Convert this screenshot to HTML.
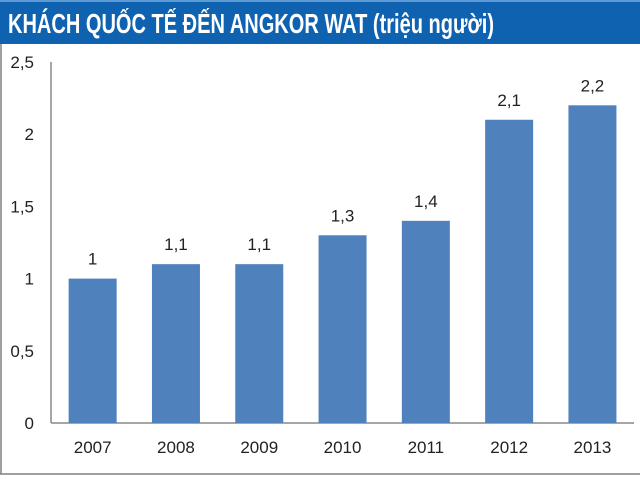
<!DOCTYPE html>
<html><head><meta charset="utf-8"><style>
html,body{margin:0;padding:0;background:#fff;}
svg{display:block;font-family:"Liberation Sans",sans-serif;}
</style></head><body>
<svg id="c" width="640" height="479" viewBox="0 0 640 479">
<rect x="0" y="0" width="640" height="44" fill="#0e62b0"/>
<rect x="0" y="0" width="640" height="2" fill="#5d9ad6"/>
<text x="8" y="33" fill="#fff" font-weight="bold" font-size="28" textLength="486" lengthAdjust="spacingAndGlyphs">KHÁCH QUỐC TẾ ĐẾN ANGKOR WAT (triệu người)</text>
<line x1="1" y1="44" x2="1" y2="474" stroke="#808080" stroke-width="1.5"/>
<line x1="0" y1="474" x2="640" y2="474" stroke="#808080" stroke-width="1.5"/>
<g id="plot"></g>
</svg>
<script>
const categories = ['2007','2008','2009','2010','2011','2012','2013'];
const values = [1, 1.1, 1.1, 1.3, 1.4, 2.1, 2.2];
const valueLabels = ['1','1,1','1,1','1,3','1,4','2,1','2,2'];
const yTicks = [0, 0.5, 1, 1.5, 2, 2.5];
const yTickLabels = ['0','0,5','1','1,5','2','2,5'];

const x0 = 51, bandW = 83.3, barW = 48, yBase = 423, yTop = 62, yMax = 2.5;
const y = v => yBase - v / yMax * (yBase - yTop);
const xc = i => x0 + bandW * (i + 0.5);
const NS = 'http://www.w3.org/2000/svg';
const g = document.getElementById('plot');
function mk(tag, attrs, txt) {
  const e = document.createElementNS(NS, tag);
  for (const k in attrs) e.setAttribute(k, attrs[k]);
  if (txt !== undefined) e.textContent = txt;
  g.appendChild(e);
  return e;
}
let e = mk('line', {x1: x0, y1: y(yMax), x2: x0, y2: yBase, stroke: '#888', 'stroke-width': 1.5});


e = mk('line', {x1: x0, y1: yBase, x2: 634, y2: yBase, stroke: '#888', 'stroke-width': 1.5});


yTicks.forEach((t, i) => {
  const el = mk('text', {x: 34, y: y(t) + 6, 'text-anchor': 'end', 'font-size': 17, fill: '#222'}, yTickLabels[i]);
  
  
});
categories.forEach((c, i) => {
  const b = mk('rect', {x: xc(i) - barW / 2, y: y(values[i]), width: barW, height: yBase - y(values[i]), fill: '#4f81bd'});
  
  
  const l = mk('text', {x: xc(i), y: y(values[i]) - 14, 'text-anchor': 'middle', 'font-size': 17, fill: '#222'}, valueLabels[i]);
  
  
  const xl = mk('text', {x: xc(i), y: 453, 'text-anchor': 'middle', 'font-size': 17, fill: '#222'}, c);
  
  
});
</script>
</body></html>
